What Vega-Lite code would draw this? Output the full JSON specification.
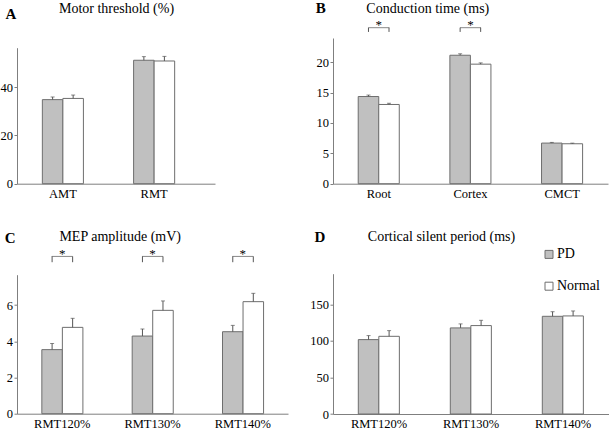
{
  "$schema": "https://vega.github.io/schema/vega-lite/v6.json",
  "padding": {"left": 0, "top": 0, "right": 0, "bottom": 0},
  "background": "white",
  "data": {"values": [
    {"panel": "A", "cat": "AMT", "group": "PD", "mean": 34.8, "hi": 35.9, "sig": false},
    {"panel": "A", "cat": "AMT", "group": "Normal", "mean": 35.3, "hi": 36.7, "sig": false},
    {"panel": "A", "cat": "RMT", "group": "PD", "mean": 51.1, "hi": 52.6, "sig": false},
    {"panel": "A", "cat": "RMT", "group": "Normal", "mean": 50.8, "hi": 52.7, "sig": false},
    {"panel": "B", "cat": "Root", "group": "PD", "mean": 14.36, "hi": 14.6, "sig": true},
    {"panel": "B", "cat": "Root", "group": "Normal", "mean": 13.05, "hi": 13.25, "sig": true},
    {"panel": "B", "cat": "Cortex", "group": "PD", "mean": 21.16, "hi": 21.4, "sig": true},
    {"panel": "B", "cat": "Cortex", "group": "Normal", "mean": 19.69, "hi": 19.9, "sig": true},
    {"panel": "B", "cat": "CMCT", "group": "PD", "mean": 6.69, "hi": 6.8, "sig": false},
    {"panel": "B", "cat": "CMCT", "group": "Normal", "mean": 6.58, "hi": 6.68, "sig": false},
    {"panel": "C", "cat": "RMT120%", "group": "PD", "mean": 3.54, "hi": 3.88, "sig": true},
    {"panel": "C", "cat": "RMT120%", "group": "Normal", "mean": 4.77, "hi": 5.27, "sig": true},
    {"panel": "C", "cat": "RMT130%", "group": "PD", "mean": 4.29, "hi": 4.68, "sig": true},
    {"panel": "C", "cat": "RMT130%", "group": "Normal", "mean": 5.71, "hi": 6.23, "sig": true},
    {"panel": "C", "cat": "RMT140%", "group": "PD", "mean": 4.53, "hi": 4.88, "sig": true},
    {"panel": "C", "cat": "RMT140%", "group": "Normal", "mean": 6.19, "hi": 6.65, "sig": true},
    {"panel": "D", "cat": "RMT120%", "group": "PD", "mean": 101.8, "hi": 107.3, "sig": false},
    {"panel": "D", "cat": "RMT120%", "group": "Normal", "mean": 106.3, "hi": 114.1, "sig": false},
    {"panel": "D", "cat": "RMT130%", "group": "PD", "mean": 117.8, "hi": 123.3, "sig": false},
    {"panel": "D", "cat": "RMT130%", "group": "Normal", "mean": 121.0, "hi": 128.2, "sig": false},
    {"panel": "D", "cat": "RMT140%", "group": "PD", "mean": 133.7, "hi": 140.0, "sig": false},
    {"panel": "D", "cat": "RMT140%", "group": "Normal", "mean": 134.2, "hi": 141.0, "sig": false}
  ]},
  "columns": 2,
  "align": {"row": "none", "column": "each"},
  "spacing": {"row": 28.7, "column": 21},
  "resolve": {"legend": {"fill": "independent"}, "scale": {"y": "independent", "x": "independent"}},
  "concat": [
    {
      "width": 198, "height": 145.7,
      "transform": [{"filter": "datum.panel === 'A'"}],
      "encoding": {
        "x": {"field": "cat", "type": "nominal", "sort": null, "scale": {"paddingInner": 0.55, "paddingOuter": 0.36, "align": 0.386},
              "axis": {"title": "A", "titleX": -12, "titleY": -170}},
        "xOffset": {"field": "group", "type": "nominal", "scale": {"domain": ["PD", "Normal"]}}
      },
      "layer": [
        {"mark": {"type": "bar", "stroke": "#6e6e6e", "strokeWidth": 1},
         "encoding": {
           "y": {"field": "mean", "type": "quantitative", "scale": {"domain": [0, 56.3], "nice": false, "range": [145.7, 9.7]},
                 "axis": {"values": [0, 20, 40], "tickCount": 3, "title": "Motor threshold (%)", "titleX": 99, "titleY": -29.6,
                          "labelFont": "Liberation Serif, Times New Roman, serif", "titleFont": "Liberation Serif, Times New Roman, serif"}},
           "fill": {"field": "group", "type": "nominal", "scale": {"domain": ["PD", "Normal"], "range": ["#c0c0c0", "#ffffff"]}, "legend": null}}},
        {"mark": {"type": "rule", "color": "#555555"},
         "encoding": {"y": {"field": "mean", "type": "quantitative"}, "y2": {"field": "hi"}}},
        {"mark": {"type": "tick", "color": "#555555", "size": 4, "thickness": 1},
         "encoding": {"y": {"field": "hi", "type": "quantitative"}}}
      ]
    },
    {
      "width": 275, "height": 145.7,
      "transform": [{"filter": "datum.panel === 'B'"}],
      "encoding": {
        "x": {"field": "cat", "type": "nominal", "sort": null, "scale": {"paddingInner": 0.55, "paddingOuter": 0.275},
              "axis": {"title": "B", "titleX": -17.7, "titleY": -176.3}}
      },
      "layer": [
        {"mark": {"type": "bar", "stroke": "#6e6e6e", "strokeWidth": 1},
         "encoding": {
           "xOffset": {"field": "group", "type": "nominal", "scale": {"domain": ["PD", "Normal"]}},
           "y": {"field": "mean", "type": "quantitative", "scale": {"domain": [0, 24], "nice": false},
                 "axis": {"values": [0, 5, 10, 15, 20], "tickCount": 5, "title": "Conduction time (ms)", "titleX": 94.3, "titleY": -29.6,
                          "labelFont": "Liberation Serif, Times New Roman, serif", "titleFont": "Liberation Serif, Times New Roman, serif"}},
           "fill": {"field": "group", "type": "nominal", "scale": {"domain": ["PD", "Normal"], "range": ["#c0c0c0", "#ffffff"]}, "legend": null}}},
        {"mark": {"type": "rule", "color": "#555555"},
         "encoding": {"xOffset": {"field": "group", "type": "nominal", "scale": {"domain": ["PD", "Normal"]}},
           "y": {"field": "mean", "type": "quantitative"}, "y2": {"field": "hi"}}},
        {"mark": {"type": "tick", "color": "#555555", "size": 4, "thickness": 1},
         "encoding": {"xOffset": {"field": "group", "type": "nominal", "scale": {"domain": ["PD", "Normal"]}},
           "y": {"field": "hi", "type": "quantitative"}}},
        {"transform": [{"filter": "datum.sig"}],
         "mark": {"type": "rule", "color": "#555555"},
         "encoding": {"xOffset": {"field": "group", "type": "nominal", "scale": {"domain": ["PD", "Normal"]}},
           "y": {"datum": 25.0}, "y2": {"datum": 25.7}}},
        {"transform": [{"filter": "datum.sig && datum.group === 'PD'"}],
         "mark": {"type": "tick", "color": "#555555", "size": 21, "thickness": 1},
         "encoding": {"y": {"datum": 25.7}}},
        {"transform": [{"filter": "datum.sig && datum.group === 'PD'"}],
         "mark": {"type": "text", "text": "*", "fontSize": 13, "baseline": "middle", "fill": "#000000"},
         "encoding": {"y": {"datum": 26.15}}}
      ]
    },
    {
      "width": 271, "height": 139,
      "transform": [{"filter": "datum.panel === 'C'"}],
      "encoding": {
        "x": {"field": "cat", "type": "nominal", "sort": null, "scale": {"paddingInner": 0.55, "paddingOuter": 0.275},
              "axis": {"title": "C", "titleX": -12.7, "titleY": -176.3}}
      },
      "layer": [
        {"mark": {"type": "bar", "stroke": "#6e6e6e", "strokeWidth": 1},
         "encoding": {
           "xOffset": {"field": "group", "type": "nominal", "scale": {"domain": ["PD", "Normal"]}},
           "y": {"field": "mean", "type": "quantitative", "scale": {"domain": [0, 7.68], "nice": false},
                 "axis": {"values": [0, 2, 4, 6], "tickCount": 4, "title": "MEP amplitude (mV)", "titleX": 102.7, "titleY": -38.3,
                          "labelFont": "Liberation Serif, Times New Roman, serif", "titleFont": "Liberation Serif, Times New Roman, serif"}},
           "fill": {"field": "group", "type": "nominal", "scale": {"domain": ["PD", "Normal"], "range": ["#c0c0c0", "#ffffff"]}, "legend": null}}},
        {"mark": {"type": "rule", "color": "#555555"},
         "encoding": {"xOffset": {"field": "group", "type": "nominal", "scale": {"domain": ["PD", "Normal"]}},
           "y": {"field": "mean", "type": "quantitative"}, "y2": {"field": "hi"}}},
        {"mark": {"type": "tick", "color": "#555555", "size": 4, "thickness": 1},
         "encoding": {"xOffset": {"field": "group", "type": "nominal", "scale": {"domain": ["PD", "Normal"]}},
           "y": {"field": "hi", "type": "quantitative"}}},
        {"transform": [{"filter": "datum.sig"}],
         "mark": {"type": "rule", "color": "#555555"},
         "encoding": {"xOffset": {"field": "group", "type": "nominal", "scale": {"domain": ["PD", "Normal"]}},
           "y": {"datum": 8.37}, "y2": {"datum": 8.69}}},
        {"transform": [{"filter": "datum.sig && datum.group === 'PD'"}],
         "mark": {"type": "tick", "color": "#555555", "size": 21, "thickness": 1},
         "encoding": {"y": {"datum": 8.69}}},
        {"transform": [{"filter": "datum.sig && datum.group === 'PD'"}],
         "mark": {"type": "text", "text": "*", "fontSize": 13, "baseline": "middle", "fill": "#000000"},
         "encoding": {"y": {"datum": 8.84}}}
      ]
    },
    {
      "width": 276, "height": 140.3,
      "transform": [{"filter": "datum.panel === 'D'"}],
      "encoding": {
        "x": {"field": "cat", "type": "nominal", "sort": null, "scale": {"paddingInner": 0.55, "paddingOuter": 0.275},
              "axis": {"title": "D", "titleX": -19, "titleY": -177.6}},
        "xOffset": {"field": "group", "type": "nominal", "scale": {"domain": ["PD", "Normal"]}}
      },
      "layer": [
        {"mark": {"type": "bar", "stroke": "#6e6e6e", "strokeWidth": 1},
         "encoding": {
           "y": {"field": "mean", "type": "quantitative", "scale": {"domain": [0, 192], "nice": false},
                 "axis": {"values": [0, 50, 100, 150], "tickCount": 4, "title": "Cortical silent period (ms)", "titleX": 108, "titleY": -37.3,
                          "labelFont": "Liberation Serif, Times New Roman, serif", "titleFont": "Liberation Serif, Times New Roman, serif"}},
           "fill": {"field": "group", "type": "nominal", "scale": {"domain": ["PD", "Normal"], "range": ["#c0c0c0", "#ffffff"]},
             "legend": {"title": null, "orient": "none", "legendX": 209, "legendY": -26.3, "symbolType": "square", "symbolSize": 64,
               "symbolStrokeColor": "#6e6e6e", "symbolStrokeWidth": 1, "labelFont": "Liberation Serif, Times New Roman, serif", "labelFontSize": 14,
               "labelColor": "#000000", "rowPadding": 17.8, "padding": 0, "labelOffset": 1}}}},
        {"mark": {"type": "rule", "color": "#555555"},
         "encoding": {"y": {"field": "mean", "type": "quantitative"}, "y2": {"field": "hi"}}},
        {"mark": {"type": "tick", "color": "#555555", "size": 4, "thickness": 1},
         "encoding": {"y": {"field": "hi", "type": "quantitative"}}}
      ]
    }
  ],
  "config": {
    "view": {"stroke": null},
    "font": "Liberation Serif, Times New Roman, serif",
    "text": {"font": "Liberation Serif, Times New Roman, serif"},
    "style": {"guide-label": {"font": "Liberation Serif, Times New Roman, serif"}, "guide-title": {"font": "Liberation Serif, Times New Roman, serif"}},
    "axis": {"grid": false, "domainColor": "#7f7f7f", "labelFont": "Liberation Serif, Times New Roman, serif", "labelFontSize": 12.5, "labelColor": "#000000",
      "titleFont": "Liberation Serif, Times New Roman, serif", "titleColor": "#000000", "titleAngle": 0, "titleBaseline": "middle", "labelOverlap": false},
    "axisX": {"ticks": false, "labelPadding": 3.5, "labelAngle": 0, "titleFontSize": 15, "titleFontWeight": "bold", "titleAlign": "left"},
    "axisY": {"tickSize": 3, "tickColor": "#7f7f7f", "labelPadding": 1.5, "titleFontSize": 14, "titleFontWeight": "normal", "titleAlign": "center"}
  }
}
